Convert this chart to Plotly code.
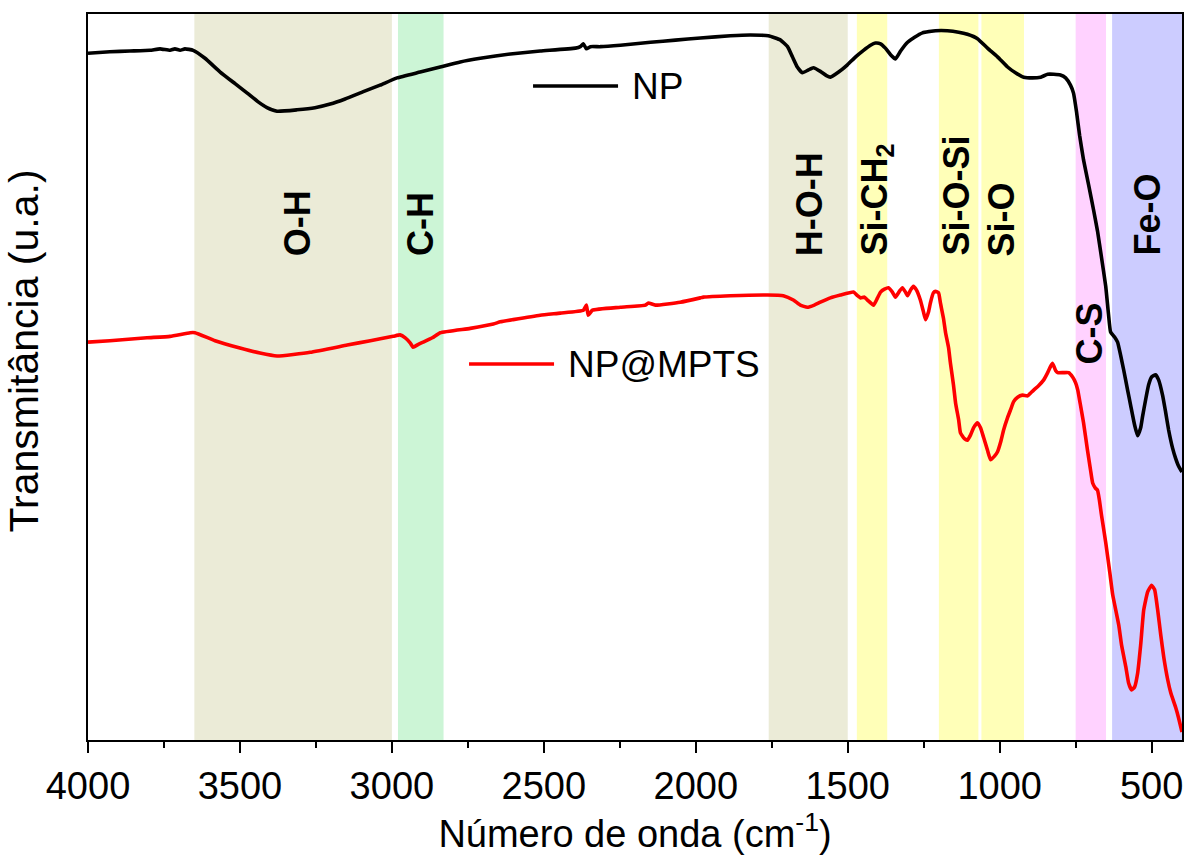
import plotly.graph_objects as go

# FTIR spectra: wavenumber (cm-1) and transmittance (a.u., offset for display)
np_wavenumber = [4000, 3928, 3862, 3796, 3763, 3730, 3714, 3697, 3681, 3654, 3615, 3565, 3516,
                 3476, 3440, 3411, 3378, 3312, 3253, 3203, 3154, 3094, 3039, 2983, 2907, 2841,
                 2775, 2709, 2610, 2512, 2396, 2380, 2370, 2360, 2347, 2314, 2248, 2149, 2067,
                 1985, 1886, 1820, 1761, 1721, 1698, 1682, 1666, 1649, 1629, 1613, 1590, 1570,
                 1557, 1530, 1501, 1474, 1448, 1425, 1409, 1392, 1376, 1359, 1343, 1326, 1303,
                 1280, 1254, 1211, 1172, 1135, 1106, 1073, 1040, 1007, 974, 948, 921, 892, 865,
                 842, 822, 800, 783, 767, 757, 747, 737, 724, 707, 691, 678, 665, 651, 642, 635,
                 622, 612, 602, 592, 579, 569, 556, 546, 536, 530, 520, 510, 500, 487, 477, 464,
                 454, 444, 431, 421, 411, 400]
np_transmittance = [94.6, 94.8, 94.9, 95.0, 95.2, 95.0, 95.2, 95.0, 95.2, 95.0, 93.9, 92.0, 90.4,
                    89.1, 87.9, 87.1, 86.6, 86.8, 87.1, 87.6, 88.3, 89.3, 90.2, 91.2, 92.0, 92.7,
                    93.4, 93.9, 94.5, 94.9, 95.3, 95.5, 95.9, 95.2, 95.5, 95.5, 95.7, 96.1, 96.4,
                    96.7, 97.0, 97.1, 97.0, 96.4, 95.5, 94.1, 92.7, 91.9, 92.3, 92.6, 92.1, 91.5,
                    91.3, 92.0, 93.0, 94.1, 95.0, 95.7, 96.0, 95.9, 95.3, 94.4, 93.8, 94.9, 96.1,
                    96.8, 97.4, 97.7, 97.7, 97.5, 97.2, 96.6, 95.3, 94.1, 92.7, 91.9, 91.3, 91.2, 91.3,
                    91.7, 91.7, 91.6, 91.2, 90.2, 89.1, 86.5, 83.3, 79.9, 76.4, 73.0, 70.1, 66.5, 62.5, 58.7, 56.2,
                    55.5, 54.8, 53.0, 51.0, 48.2, 46.1, 43.4, 41.9, 43.0, 44.5, 46.8, 48.9, 50.0, 50.3, 49.6, 47.5,
                    45.2, 42.7, 40.2, 38.8, 37.7, 36.9]

mpts_wavenumber = [4000, 3928, 3806, 3730, 3664, 3648, 3582, 3500, 3434, 3378, 3269, 3147, 3071,
                   2996, 2973, 2956, 2940, 2930, 2913, 2897, 2867, 2841, 2742, 2666, 2643, 2601,
                   2512, 2446, 2370, 2360, 2354, 2340, 2248, 2166, 2156, 2133, 2051, 1985, 1975,
                   1886, 1764, 1712, 1679, 1656, 1633, 1610, 1590, 1557, 1524, 1481, 1468, 1458,
                   1445, 1435, 1415, 1402, 1392, 1379, 1366, 1353, 1343, 1330, 1320, 1310, 1303,
                   1293, 1284, 1274, 1261, 1251, 1244, 1234, 1228, 1218, 1211, 1201, 1195, 1185,
                   1178, 1168, 1162, 1152, 1145, 1135, 1129, 1116, 1106, 1096, 1086, 1073, 1063,
                   1053, 1040, 1030, 1017, 1007, 997, 987, 974, 964, 954, 941, 925, 908, 898, 888,
                   872, 855, 842, 832, 826, 816, 809, 790, 773, 760, 750, 743, 734, 724, 711, 701,
                   694, 685, 678, 672, 665, 651, 638, 628, 608, 599, 585, 576, 566, 556, 546, 536,
                   526, 513, 500, 490, 480, 470, 460, 447, 437, 421, 411, 400]
mpts_transmittance = [54.8, 55.0, 55.4, 55.6, 56.1, 56.1, 55.0, 54.0, 53.3, 52.9, 53.4, 54.4, 55.0,
                      55.6, 55.8, 55.4, 54.7, 54.1, 54.5, 54.8, 55.4, 56.1, 56.7, 57.3, 57.6, 57.9,
                      58.5, 58.8, 59.2, 59.9, 58.5, 59.2, 59.6, 59.9, 60.2, 59.9, 60.3, 60.9, 61.0,
                      61.2, 61.3, 61.2, 60.6, 59.9, 59.6, 59.9, 60.3, 60.9, 61.3, 61.7, 61.2, 60.9,
                      61.0, 60.6, 59.9, 60.9, 61.7, 62.1, 62.3, 61.7, 61.0, 61.8, 62.3, 61.7, 61.2,
                      62.0, 62.5, 62.0, 60.6, 59.0, 57.9, 59.0, 60.2, 61.6, 61.8, 61.6, 60.2, 58.1,
                      56.1, 54.0, 51.9, 48.9, 46.4, 44.1, 42.3, 41.5, 41.3, 42.0, 43.0, 43.7, 43.0,
                      41.7, 39.9, 38.6, 39.1, 39.7, 41.0, 42.7, 44.4, 45.5, 46.6, 47.2, 47.5, 47.4, 47.8, 48.2,
                      48.8, 49.6, 50.6, 51.5, 51.9, 50.9, 50.6, 50.6, 50.6, 50.0, 49.2, 48.2, 46.1, 43.7, 39.9, 37.2,
                      35.4, 34.7, 34.4, 33.1, 31.0, 27.2, 23.2, 20.0, 15.8, 13.1, 10.1, 7.9, 6.9, 7.3, 9.2, 13.1,
                      17.9, 20.4, 21.3, 20.7, 17.9, 14.5, 11.4, 8.3, 6.5, 4.5, 3.0, 1.1]

# Band assignments: label, range (cm-1), fill colour, label centre and label bottom (paper units)
band_labels = ["O-H", "C-H", "H-O-H", "Si-CH<sub>2</sub>", "Si-O-Si", "Si-O", "C-S", "Fe-O"]
band_start = [3650, 2980, 1760, 1470, 1200, 1060, 750, 630]
band_end = [3000, 2830, 1500, 1370, 1070, 920, 650, 400]
band_colors = ["#EBEBD7", "#CCF5D6", "#EBEBD7", "#FFFFB8", "#FFFFB8", "#FFFFB8", "#FFD2FF", "#CCCCFF"]
label_x = [3308, 2904, 1623, 1405, 1142, 994, 704, 513]
label_y = [0.664, 0.664, 0.664, 0.664, 0.664, 0.664, 0.514, 0.664]

series_names = ["NP", "NP@MPTS"]
series_colors = ["#000000", "#FF0000"]

FONT = "Arial, Liberation Sans, sans-serif"

fig = go.Figure()

fig.add_trace(go.Scatter(x=np_wavenumber, y=np_transmittance, mode="lines", name=series_names[0],
                         line=dict(color=series_colors[0], width=3.6, shape="spline", smoothing=0.4),
                         showlegend=False))
fig.add_trace(go.Scatter(x=mpts_wavenumber, y=mpts_transmittance, mode="lines", name=series_names[1],
                         line=dict(color=series_colors[1], width=3.6, shape="spline", smoothing=0.4),
                         showlegend=False))

shapes = []
for x0, x1, col in zip(band_start, band_end, band_colors):
    shapes.append(dict(type="rect", xref="x", yref="paper", x0=x0, x1=x1, y0=0, y1=1,
                       fillcolor=col, line=dict(width=0), layer="below"))

annotations = []
for txt, lx, ly in zip(band_labels, label_x, label_y):
    annotations.append(dict(text=f"<b>{txt}</b>", x=lx, y=ly, xref="x", yref="paper",
                            textangle=-90, showarrow=False, xanchor="center", yanchor="bottom",
                            font=dict(family=FONT, size=36, color="black")))

# Key entries drawn inside the plot area
key_pos = [(0.4068, 0.4845, 0.9008, 0.4954), (0.3483, 0.4260, 0.5179, 0.4369)]
for (x0, x1, y, tx), name, col in zip(key_pos, series_names, series_colors):
    shapes.append(dict(type="line", xref="paper", yref="paper", x0=x0, x1=x1, y0=y, y1=y,
                       line=dict(color=col, width=3.6)))
    annotations.append(dict(text=name, x=tx, y=y, xref="paper", yref="paper", showarrow=False,
                            xanchor="left", yanchor="middle",
                            font=dict(family=FONT, size=37, color="black")))

# Y-axis title placed beside the frame
annotations.append(dict(text="Transmitância (u.a.)", x=-0.036, y=0.536, xref="paper", yref="paper",
                        textangle=-90, showarrow=False, xanchor="right", yanchor="middle",
                        font=dict(family=FONT, size=41, color="black")))

fig.update_layout(
    width=1184, height=857,
    margin=dict(l=88, r=2, t=14, b=117),
    paper_bgcolor="white", plot_bgcolor="white",
    font=dict(family=FONT, color="black"),
    shapes=shapes, annotations=annotations,
    showlegend=False,
)

fig.update_xaxes(
    range=[4000, 400], showgrid=False, zeroline=False,
    showline=True, linecolor="black", linewidth=2, mirror=True,
    ticks="outside", ticklen=11, tickwidth=2, tickcolor="black",
    tickmode="array", tickvals=[4000, 3500, 3000, 2500, 2000, 1500, 1000, 500],
    ticklabeloverflow="allow",
    tickfont=dict(family=FONT, size=38, color="black"),
    minor=dict(ticks="outside", ticklen=6, tickwidth=2, tickcolor="black", dtick=250, tick0=0),
    title=dict(text="Número de onda (cm<sup>-1</sup>)", font=dict(family=FONT, size=38, color="black"),
               standoff=14),
    automargin=False,
)
fig.update_yaxes(
    range=[0, 100], showgrid=False, zeroline=False,
    showline=True, linecolor="black", linewidth=2, mirror=True,
    ticks="", showticklabels=False,
    automargin=False,
)

fig.write_html("out.html")
